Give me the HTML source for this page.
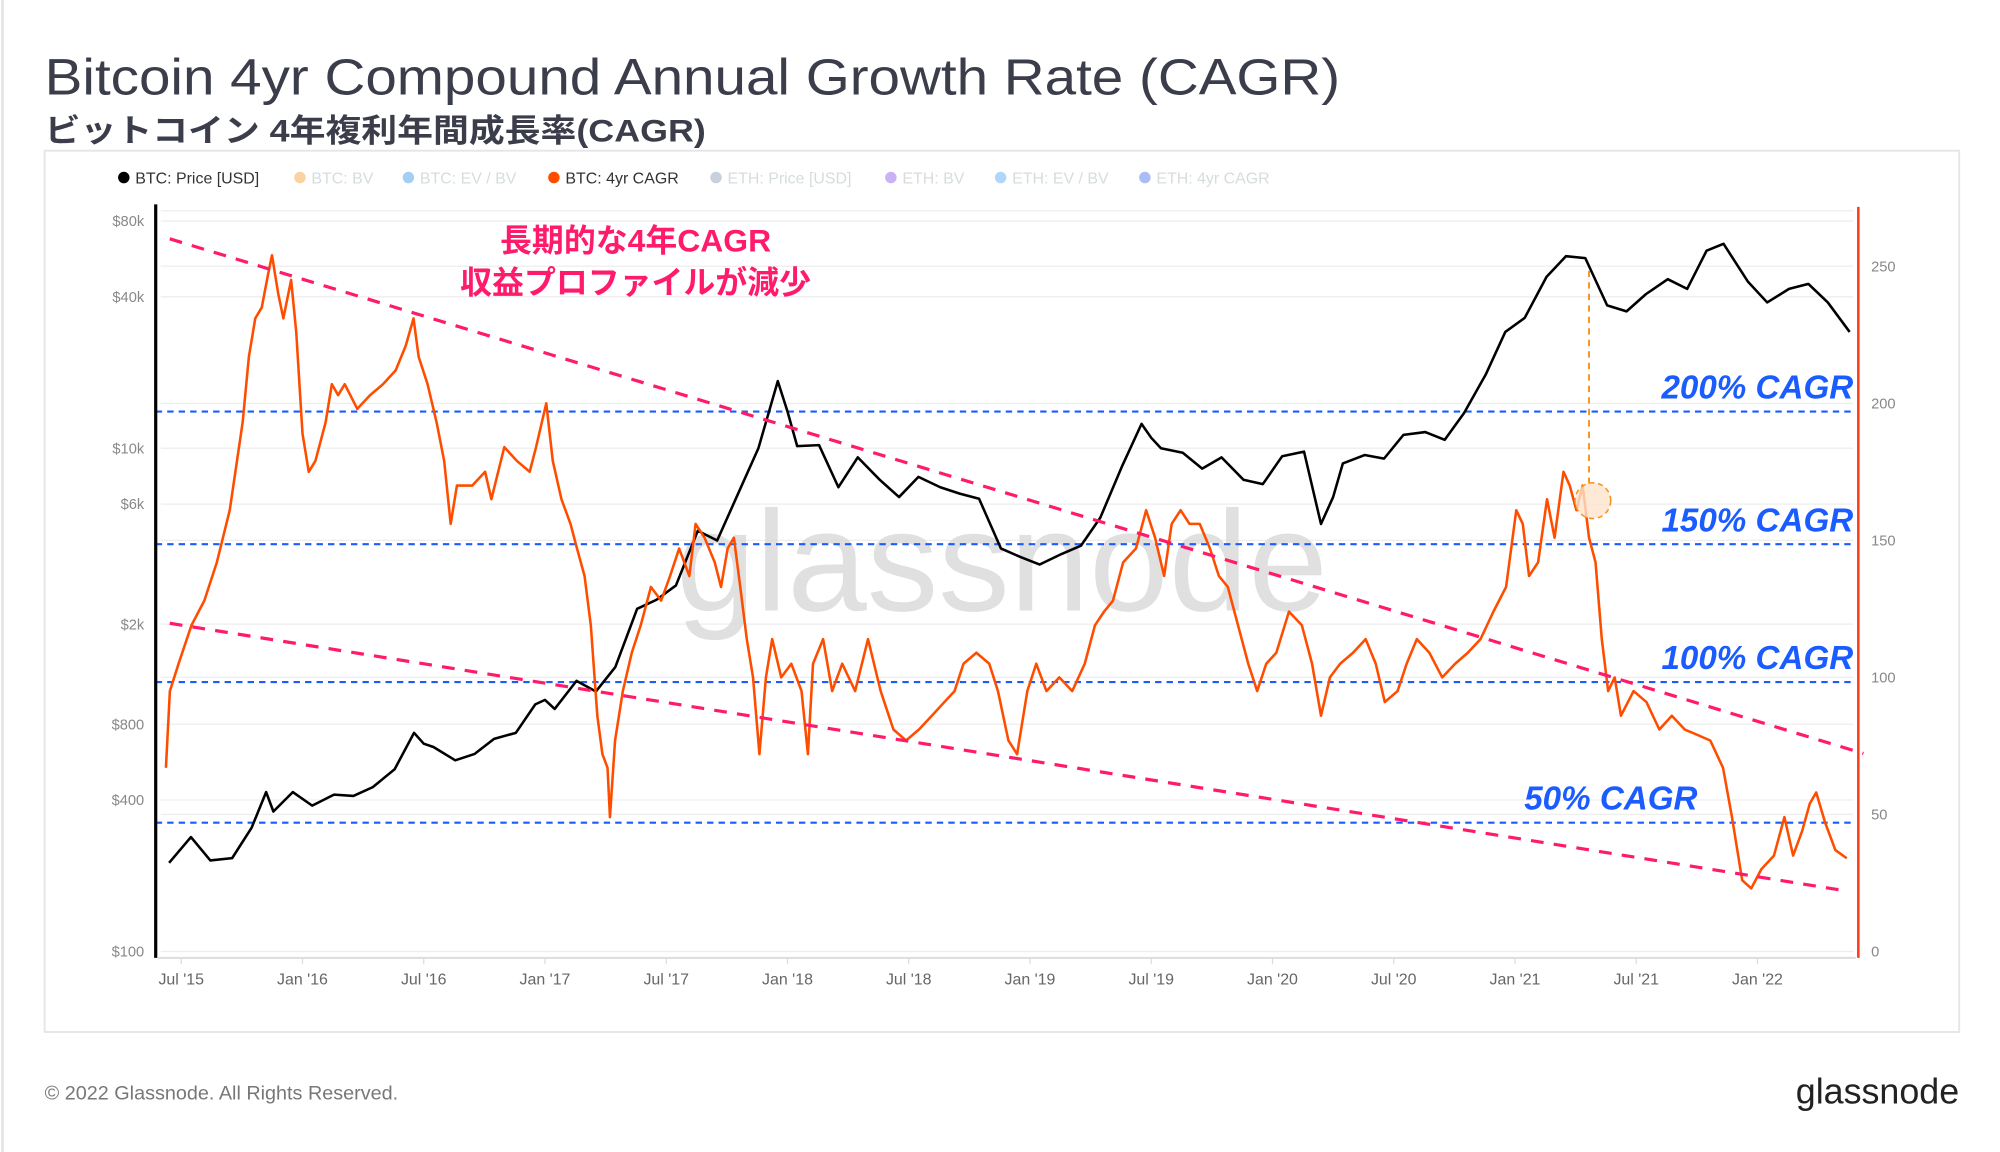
<!DOCTYPE html>
<html><head><meta charset="utf-8">
<style>
html,body{margin:0;padding:0;background:#fff;}
svg{display:block;}
text{font-family:"Liberation Sans","Noto Sans CJK JP",sans-serif;}
</style></head>
<body>
<svg id="chart" width="2000" height="1152" viewBox="0 0 1567 902" preserveAspectRatio="none" xmlns="http://www.w3.org/2000/svg">
<line x1="2" y1="0" x2="2" y2="902" stroke="#e3e3e3" stroke-width="2"/>
<text x="35" y="74" font-size="40" fill="#3b3e4a" textLength="1015" lengthAdjust="spacingAndGlyphs">Bitcoin 4yr Compound Annual Growth Rate (CAGR)</text>
<text x="35" y="111" font-size="25" font-weight="bold" fill="#3b3e4a" textLength="518" lengthAdjust="spacingAndGlyphs">ビットコイン 4年複利年間成長率(CAGR)</text>
<rect x="35" y="118" width="1500" height="690" fill="none" stroke="#e6e6e6" stroke-width="1.5"/>
<g id="legend"></g>
<g id="grid"></g>
<text x="785" y="478" font-size="112" fill="#d9d9d9" text-anchor="middle" opacity="0.8">glassnode</text>
<g id="plot"></g>
<g id="axes"></g>
<g id="annot"></g>
<text x="35" y="861" font-size="15" fill="#777" textLength="277" lengthAdjust="spacingAndGlyphs">© 2022 Glassnode. All Rights Reserved.</text>
<text x="1535" y="864" font-size="28" fill="#222" text-anchor="end" textLength="128" lengthAdjust="spacingAndGlyphs">glassnode</text>
</svg>
<script>
const priceDates=[2015.45,2015.54,2015.62,2015.71,2015.79,2015.85,2015.88,2015.96,2016.04,2016.13,2016.21,2016.29,2016.38,2016.46,2016.5,2016.54,2016.63,2016.71,2016.79,2016.88,2016.96,2017.0,2017.04,2017.13,2017.21,2017.29,2017.38,2017.46,2017.54,2017.63,2017.71,2017.79,2017.88,2017.96,2018.0,2018.04,2018.13,2018.21,2018.29,2018.38,2018.46,2018.54,2018.63,2018.71,2018.79,2018.88,2018.96,2019.04,2019.13,2019.21,2019.29,2019.38,2019.46,2019.5,2019.54,2019.63,2019.71,2019.79,2019.88,2019.96,2020.04,2020.13,2020.2,2020.25,2020.29,2020.38,2020.46,2020.54,2020.63,2020.71,2020.79,2020.88,2020.96,2021.04,2021.13,2021.21,2021.29,2021.38,2021.46,2021.54,2021.63,2021.71,2021.79,2021.86,2021.96,2022.04,2022.13,2022.21,2022.29,2022.38];
const priceValues=[225,285,230,235,310,430,360,430,380,420,415,450,530,740,670,650,575,610,700,740,960,1000,920,1190,1080,1350,2300,2500,2850,4700,4300,6400,10000,18500,14000,10200,10300,7000,9200,7500,6400,7700,7000,6600,6300,4000,3700,3450,3800,4100,5300,8500,12500,11000,10000,9600,8300,9200,7500,7200,9300,9700,5000,6400,8700,9400,9100,11300,11600,10800,13800,19700,29000,33000,48000,58000,57000,37000,35000,41000,47000,43000,61000,65000,46000,38000,43000,45000,38000,29000];
const cagrPx=[130,133,140,150,160,170,180,190,195,200,205,210,213,218,222,228,232,237,242,247,255,260,265,270,280,290,300,310,318,324,328,335,342,348,353,358,370,380,385,395,405,415,420,428,433,440,447,452,458,463,468,472,476,478,482,488,495,502,510,518,525,532,540,545,552,560,565,570,575,580,585,590,595,600,605,612,620,628,633,637,645,652,660,670,680,690,700,710,720,730,740,748,755,765,775,782,790,797,805,812,820,830,840,850,858,865,872,880,890,898,905,912,918,925,932,940,948,955,962,970,978,985,992,1000,1010,1020,1028,1035,1042,1050,1060,1070,1078,1085,1095,1102,1110,1120,1130,1140,1150,1160,1170,1180,1188,1193,1198,1205,1212,1218,1225,1230,1235,1240,1245,1250,1255,1260,1265,1270,1280,1290,1300,1310,1320,1330,1340,1350,1357,1365,1372,1380,1390,1398,1405,1412,1418,1423,1430,1438,1447];
const cagrDates=cagrPx.map(p=>+(2015.5+(p-142)/190).toFixed(3));
const cagrValues=[67,95,105,119,128,142,161,193,217,231,235,247,254,240,231,245,226,189,175,179,193,207,203,207,198,203,207,212,221,231,217,207,193,179,156,170,170,175,165,184,179,175,184,200,179,165,156,147,137,119,86,72,67,49,77,95,109,119,133,128,137,147,137,156,151,142,133,147,151,133,114,100,72,100,114,100,105,95,72,105,114,95,105,95,114,95,81,77,81,86,91,95,105,109,105,95,77,72,95,105,95,100,95,105,119,124,128,142,147,161,151,137,156,161,156,156,147,137,133,119,105,95,105,109,124,119,105,86,100,105,109,114,105,91,95,105,114,109,100,105,109,114,124,133,161,156,137,142,165,151,175,170,161,170,151,142,114,95,100,86,95,91,81,86,81,79,77,67,49,26,23,30,35,49,35,44,54,58,47,37,34];
const xTickLabels=["Jul '15","Jan '16","Jul '16","Jan '17","Jul '17","Jan '18","Jul '18","Jan '19","Jul '19","Jan '20","Jul '20","Jan '21","Jul '21","Jan '22"];
const xTickDates=[2015.5,2016,2016.5,2017,2017.5,2018,2018.5,2019,2019.5,2020,2020.5,2021,2021.5,2022];
const leftTickLabels=["$100","$400","$800","$2k","$6k","$10k","$40k","$80k"];
const leftTickValues=[100,400,800,2000,6000,10000,40000,80000];
const rightTickValues=[0,50,100,150,200,250];
const cagrLevels=[47,98.3,148.6,197];
const cagrLevelLabels=["50% CAGR","100% CAGR","150% CAGR","200% CAGR"];

const NS="http://www.w3.org/2000/svg";
const X=t=>142+(t-2015.5)*190;
const YL=v=>745-197*Math.log10(v/100);
const YR=v=>745-v*2.146;
function mk(tag,attrs,parent,txt){const e=document.createElementNS(NS,tag);for(const k in attrs)e.setAttribute(k,attrs[k]);if(txt!==undefined)e.textContent=txt;parent.appendChild(e);return e;}
const grid=document.getElementById('grid'),plot=document.getElementById('plot'),axes=document.getElementById('axes'),annot=document.getElementById('annot'),legend=document.getElementById('legend');

const legItems=[["BTC: Price [USD]","#000",97,1],["BTC: BV","#f7931a",235,0.4],["BTC: EV / BV","#1e88e5",320,0.4],["BTC: 4yr CAGR","#ff4d00",434,1],["ETH: Price [USD]","#7a8bab",561,0.4],["ETH: BV","#7b3fe4",698,0.4],["ETH: EV / BV","#3d9af5",784,0.4],["ETH: 4yr CAGR","#2a5ae8",897,0.4]];
legItems.forEach(it=>{
 const g=mk('g',{opacity:it[3]},legend);
 
 
 mk('circle',{cx:it[2],cy:139,r:4.5,fill:it[1]},g);
 mk('text',{x:it[2]+9,y:143.5,'font-size':12.5,fill:it[3]<1?'#9aa':'#333'},g,it[0]);
});

leftTickValues.forEach(v=>{const l=mk('line',{x1:126,x2:1452,y1:YL(v),y2:YL(v),stroke:'#eeeeee','stroke-width':1},grid);});
rightTickValues.forEach(v=>{const l=mk('line',{x1:126,x2:1452,y1:YR(v),y2:YR(v),stroke:'#eeeeee','stroke-width':1},grid);});
mk('line',{x1:126,x2:1452,y1:165,y2:165,stroke:'#eeeeee'},grid);

cagrLevels.forEach(v=>{const l=mk('line',{x1:122,x2:1454,y1:YR(v),y2:YR(v),stroke:'#1a5cff','stroke-width':1.6,'stroke-dasharray':'5 4'},plot);});

let d=priceDates.map((t,i)=>(i?'L':'M')+X(t).toFixed(1)+','+YL(priceValues[i]).toFixed(1)).join('');
const pl=mk('path',{d:d,fill:'none',stroke:'#000','stroke-width':2,'stroke-linejoin':'round'},plot);


d=cagrDates.map((t,i)=>(i?'L':'M')+X(t).toFixed(1)+','+YR(cagrValues[i]).toFixed(1)).join('');
const cl=mk('path',{d:d,fill:'none',stroke:'#ff4d00','stroke-width':2,'stroke-linejoin':'round'},plot);



mk('line',{x1:122,y1:160,x2:122,y2:750,stroke:'#000','stroke-width':2.5},axes);
mk('line',{x1:1456,y1:162,x2:1456,y2:750,stroke:'#ff3b1a','stroke-width':2},axes);
mk('line',{x1:124,y1:750,x2:1454,y2:750,stroke:'#ddd','stroke-width':1.5},axes);
leftTickLabels.forEach((s,i)=>{const t=mk('text',{x:113,y:YL(leftTickValues[i])+4,'font-size':11.5,fill:'#888','text-anchor':'end'},axes,s);});
rightTickValues.forEach(v=>{const t=mk('text',{x:1466,y:YR(v)+4,'font-size':11.5,fill:'#888'},axes,String(v));});
xTickLabels.forEach((s,i)=>{const t=mk('text',{x:X(xTickDates[i]),y:771,'font-size':12.5,fill:'#666','text-anchor':'middle'},axes,s);mk('line',{x1:X(xTickDates[i]),x2:X(xTickDates[i]),y1:750,y2:755,stroke:'#ddd'},axes);});

[[133,187,1460,590],[133,488,1443,697]].forEach(p=>{const l=mk('line',{x1:p[0],y1:p[1],x2:p[2],y2:p[3],stroke:'#ff1a6b','stroke-width':2.5,'stroke-dasharray':'10 8'},annot);});
const lblPos=[[1330,634],[1452,524],[1452,416],[1452,312]];
cagrLevelLabels.forEach((s,i)=>{const t=mk('text',{x:lblPos[i][0],y:lblPos[i][1],'font-size':26,'font-weight':'bold','font-style':'italic',fill:'#1a5cff','text-anchor':'end'},annot,s);});
mk('line',{x1:1245,y1:212,x2:1245,y2:380,stroke:'#f7931a','stroke-width':1.5,'stroke-dasharray':'5 4'},annot);
mk('circle',{cx:1248,cy:392,r:14,fill:'#fde3cc','fill-opacity':0.8,stroke:'#f7931a','stroke-width':1.2,'stroke-dasharray':'4 3'},annot);
const t1=mk('text',{x:498,y:197,'font-size':25,'font-weight':'bold',fill:'#ff1a6b','text-anchor':'middle'},annot,'長期的な4年CAGR');


const t2=mk('text',{x:498,y:230,'font-size':25,'font-weight':'bold',fill:'#ff1a6b','text-anchor':'middle'},annot,'収益プロファイルが減少');


</script>
</body></html>
